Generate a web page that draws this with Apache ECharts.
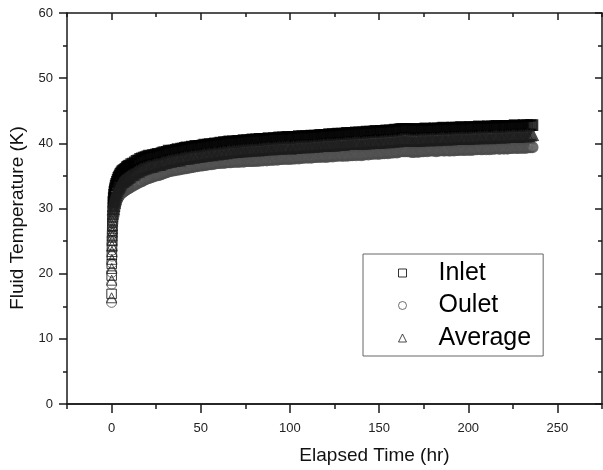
<!DOCTYPE html>
<html>
<head>
<meta charset="utf-8">
<script src="https://cdn.jsdelivr.net/npm/echarts@6/dist/echarts.min.js"></script>
<style>
  html, body { margin: 0; padding: 0; background: #fff; }
  #chart { width: 603px; height: 470px; }
</style>
</head>
<body>
<div id="chart"></div>
<script>
// elapsed time (hr)
const times = [
  0, 0.05, 0.1, 0.15, 0.2, 0.25, 0.3, 0.35, 0.4, 0.45,
  0.5, 0.6, 0.7, 0.8, 0.9, 1.0, 1.2, 1.4, 1.6, 1.8,
  2.0, 2.3, 2.6, 3.0, 3.4, 3.8, 4.2, 4.6, 5.0, 5.5,
  6, 6.5, 7, 7.5, 8, 8.5, 9, 9.5,
  10, 11, 12, 13, 14, 15, 16, 17, 18, 19,
  20, 21, 22, 23, 24, 25, 26, 27, 28, 29,
  30, 31, 32, 33, 34, 35, 36, 37, 38, 39,
  40, 41, 42, 43, 44, 45, 46, 47, 48, 49,
  50, 51, 52, 53, 54, 55, 56, 57, 58, 59,
  60, 61, 62, 63, 64, 65, 66, 67, 68, 69,
  70, 71, 72, 73, 74, 75, 76, 77, 78, 79,
  80, 81, 82, 83, 84, 85, 86, 87, 88, 89,
  90, 91, 92, 93, 94, 95, 96, 97, 98, 99,
  100, 101, 102, 103, 104, 105, 106, 107, 108, 109,
  110, 111, 112, 113, 114, 115, 116, 117, 118, 119,
  120, 121, 122, 123, 124, 125, 126, 127, 128, 129,
  130, 131, 132, 133, 134, 135, 136, 137, 138, 139,
  140, 141, 142, 143, 144, 145, 146, 147, 148, 149,
  150, 151, 152, 153, 154, 155, 156, 157, 158, 159,
  160, 161, 162, 163, 164, 165, 166, 167, 168, 169,
  170, 171, 172, 173, 174, 175, 176, 177, 178, 179,
  180, 181, 182, 183, 184, 185, 186, 187, 188, 189,
  190, 191, 192, 193, 194, 195, 196, 197, 198, 199,
  200, 201, 202, 203, 204, 205, 206, 207, 208, 209,
  210, 211, 212, 213, 214, 215, 216, 217, 218, 219,
  220, 221, 222, 223, 224, 225, 226, 227, 228, 229,
  230, 231, 232, 233, 234, 235, 236
]

// fluid temperature (K)
const inlet = [
  16.9, 19.7, 21.5, 22.9, 24.1, 25.1, 25.9, 26.6, 27.2, 27.8,
  28.3, 29.1, 29.7, 30.2, 30.6, 31.0, 31.6, 32.1, 32.5, 32.8,
  33.1, 33.5, 33.8, 34.1, 34.4, 34.7, 34.9, 35.1, 35.3, 35.5,
  35.7, 35.8, 35.9, 36.0, 36.1, 36.3, 36.4, 36.5,
  36.6, 36.8, 36.9, 37.1, 37.3, 37.4, 37.6, 37.7, 37.8, 37.9,
  38.0, 38.1, 38.0, 38.2, 38.2, 38.3, 38.4, 38.3, 38.5, 38.6,
  38.6, 38.7, 38.9, 38.8, 38.9, 38.9, 39.0, 39.1, 39.0, 39.2,
  39.2, 39.3, 39.4, 39.3, 39.4, 39.5, 39.4, 39.6, 39.5, 39.6,
  39.6, 39.7, 39.8, 39.7, 39.8, 39.9, 39.8, 39.9, 40.0, 39.9,
  40.0, 40.1, 40.0, 40.2, 40.1, 40.2, 40.3, 40.2, 40.3, 40.2,
  40.3, 40.4, 40.3, 40.4, 40.5, 40.4, 40.5, 40.4, 40.5, 40.6,
  40.5, 40.6, 40.5, 40.7, 40.6, 40.7, 40.6, 40.7, 40.8, 40.7,
  40.7, 40.8, 40.7, 40.8, 40.9, 40.8, 40.9, 40.8, 40.9, 41.0,
  40.8, 40.9, 41.0, 40.9, 41.0, 41.1, 41.0, 41.1, 41.0, 41.1,
  41.0, 41.1, 41.2, 41.1, 41.2, 41.1, 41.2, 41.3, 41.2, 41.3,
  41.2, 41.3, 41.4, 41.3, 41.4, 41.3, 41.4, 41.5, 41.4, 41.5,
  41.4, 41.5, 41.6, 41.5, 41.6, 41.5, 41.6, 41.7, 41.6, 41.7,
  41.6, 41.7, 41.6, 41.8, 41.7, 41.8, 41.7, 41.8, 41.9, 41.8,
  41.8, 41.9, 41.8, 41.9, 42.0, 41.9, 42.0, 41.9, 42.0, 42.1,
  42.0, 42.1, 42.2, 42.2, 42.2, 42.2, 42.2, 42.2, 42.1, 42.1,
  42.1, 42.2, 42.1, 42.2, 42.1, 42.2, 42.3, 42.2, 42.1, 42.2,
  42.2, 42.3, 42.2, 42.3, 42.2, 42.3, 42.4, 42.3, 42.2, 42.3,
  42.3, 42.4, 42.3, 42.4, 42.3, 42.4, 42.5, 42.4, 42.3, 42.4,
  42.4, 42.5, 42.4, 42.5, 42.4, 42.5, 42.6, 42.5, 42.4, 42.5,
  42.5, 42.6, 42.5, 42.6, 42.5, 42.6, 42.7, 42.6, 42.5, 42.6,
  42.6, 42.7, 42.6, 42.7, 42.6, 42.7, 42.8, 42.7, 42.6, 42.7,
  42.7, 42.8, 42.7, 42.8, 42.7, 42.8, 42.8
]

const outlet = [
  15.6, 18.4, 20.2, 21.6, 22.7, 23.6, 24.4, 25.0, 25.6, 26.1,
  26.5, 27.2, 27.7, 28.1, 28.5, 28.8, 29.3, 29.7, 30.0, 30.3,
  30.5, 30.8, 31.1, 31.4, 31.6, 31.8, 32.0, 32.2, 32.3, 32.4,
  32.5, 32.6, 32.7, 32.8, 32.9, 33.0, 33.1, 33.1,
  33.2, 33.4, 33.5, 33.7, 33.8, 34.0, 34.1, 34.2, 34.4, 34.5,
  34.6, 34.7, 34.8, 34.9, 35.0, 35.1, 35.1, 35.2, 35.3, 35.4,
  35.5, 35.6, 35.7, 35.8, 35.8, 35.9, 35.9, 36.0, 36.0, 36.1,
  36.1, 36.2, 36.2, 36.3, 36.3, 36.4, 36.4, 36.5, 36.5, 36.6,
  36.6, 36.6, 36.7, 36.7, 36.8, 36.8, 36.8, 36.9, 36.9, 37.0,
  37.0, 37.0, 37.1, 37.0, 37.1, 37.1, 37.1, 37.1, 37.2, 37.2,
  37.2, 37.2, 37.2, 37.3, 37.2, 37.3, 37.3, 37.3, 37.3, 37.3,
  37.3, 37.4, 37.3, 37.4, 37.4, 37.4, 37.5, 37.4, 37.5, 37.5,
  37.5, 37.5, 37.6, 37.5, 37.6, 37.6, 37.6, 37.7, 37.6, 37.7,
  37.6, 37.7, 37.7, 37.7, 37.8, 37.7, 37.8, 37.8, 37.8, 37.9,
  37.8, 37.9, 37.8, 37.9, 37.9, 37.9, 38.0, 37.9, 38.0, 38.0,
  37.9, 38.0, 38.0, 38.1, 38.0, 38.1, 38.1, 38.1, 38.2, 38.1,
  38.1, 38.2, 38.1, 38.2, 38.2, 38.2, 38.3, 38.2, 38.3, 38.3,
  38.2, 38.3, 38.3, 38.4, 38.3, 38.4, 38.4, 38.4, 38.5, 38.4,
  38.4, 38.5, 38.5, 38.5, 38.6, 38.5, 38.6, 38.6, 38.6, 38.7,
  38.6, 38.7, 38.8, 38.8, 38.8, 38.8, 38.8, 38.8, 38.7, 38.7,
  38.7, 38.8, 38.7, 38.8, 38.8, 38.8, 38.9, 38.8, 38.9, 38.9,
  38.9, 38.9, 38.8, 38.9, 38.9, 39.0, 38.9, 38.9, 39.0, 38.9,
  38.9, 39.0, 38.9, 39.0, 39.0, 39.0, 39.1, 39.0, 39.0, 39.1,
  39.0, 39.1, 39.0, 39.1, 39.1, 39.1, 39.2, 39.1, 39.1, 39.2,
  39.1, 39.2, 39.1, 39.2, 39.2, 39.2, 39.3, 39.2, 39.2, 39.3,
  39.2, 39.3, 39.2, 39.3, 39.3, 39.3, 39.4, 39.3, 39.3, 39.4,
  39.3, 39.4, 39.3, 39.4, 39.4, 39.4, 39.4
]

const average = [
  16.3, 19.0, 20.8, 22.2, 23.4, 24.3, 25.1, 25.8, 26.4, 26.9,
  27.4, 28.1, 28.7, 29.1, 29.5, 29.9, 30.4, 30.9, 31.2, 31.5,
  31.8, 32.1, 32.4, 32.7, 33.0, 33.2, 33.4, 33.6, 33.8, 34.0,
  34.1, 34.2, 34.3, 34.4, 34.5, 34.6, 34.7, 34.8,
  34.9, 35.1, 35.2, 35.4, 35.6, 35.7, 35.9, 36.0, 36.1, 36.2,
  36.3, 36.4, 36.4, 36.5, 36.6, 36.7, 36.7, 36.7, 36.9, 37.0,
  37.0, 37.1, 37.2, 37.2, 37.3, 37.3, 37.4, 37.5, 37.4, 37.6,
  37.6, 37.7, 37.7, 37.7, 37.8, 37.9, 37.8, 38.0, 37.9, 38.0,
  38.0, 38.1, 38.2, 38.1, 38.2, 38.3, 38.2, 38.3, 38.4, 38.3,
  38.4, 38.5, 38.4, 38.6, 38.5, 38.6, 38.7, 38.6, 38.7, 38.7,
  38.7, 38.8, 38.8, 38.8, 38.9, 38.8, 38.9, 38.9, 38.9, 39.0,
  38.9, 39.0, 38.9, 39.1, 39.0, 39.1, 39.1, 39.1, 39.2, 39.1,
  39.1, 39.2, 39.2, 39.2, 39.3, 39.2, 39.3, 39.3, 39.3, 39.4,
  39.2, 39.3, 39.4, 39.3, 39.4, 39.4, 39.4, 39.5, 39.4, 39.5,
  39.4, 39.5, 39.5, 39.5, 39.6, 39.5, 39.6, 39.6, 39.6, 39.7,
  39.6, 39.7, 39.7, 39.7, 39.7, 39.7, 39.8, 39.8, 39.8, 39.8,
  39.8, 39.9, 39.9, 39.9, 39.9, 39.9, 40.0, 40.0, 40.0, 40.0,
  39.9, 40.0, 40.0, 40.1, 40.0, 40.1, 40.1, 40.1, 40.2, 40.1,
  40.1, 40.2, 40.2, 40.2, 40.3, 40.2, 40.3, 40.3, 40.3, 40.4,
  40.3, 40.4, 40.5, 40.5, 40.5, 40.5, 40.5, 40.5, 40.4, 40.4,
  40.4, 40.5, 40.4, 40.5, 40.5, 40.5, 40.6, 40.5, 40.5, 40.6,
  40.6, 40.6, 40.5, 40.6, 40.6, 40.7, 40.7, 40.6, 40.6, 40.7,
  40.6, 40.7, 40.7, 40.7, 40.7, 40.7, 40.8, 40.8, 40.7, 40.8,
  40.7, 40.8, 40.8, 40.8, 40.8, 40.8, 40.9, 40.9, 40.8, 40.9,
  40.9, 40.9, 40.8, 40.9, 40.9, 41.0, 41.0, 40.9, 40.9, 41.0,
  40.9, 41.0, 41.0, 41.0, 41.0, 41.1, 41.1, 41.0, 41.0, 41.1,
  41.1, 41.1, 41.1, 41.2, 41.1, 41.2, 41.3
]

const xMajorTicks = [0, 50, 100, 150, 200, 250]

const chart = echarts.init(document.getElementById('chart'))
const font = 'Liberation Sans, Arial, sans-serif'
const axisColor = '#1a1a1a'

// first readings sit apart on the plot, so keep their outlines thin
const pairs = (vals) =>
  times.map((t, i) => (t < 1 ? { value: [t, vals[i]], itemStyle: { borderWidth: 1 } } : [t, vals[i]]))

const markerStyle = (c) => ({
  color: 'transparent',
  borderColor: c,
  borderWidth: 2.2
})

const lineStyle = { color: axisColor, width: 1.5 }

const option = {
  animation: false,
  backgroundColor: '#fff',
  grid: { left: 67, right: 1, top: 13, bottom: 64 },
  legend: {
    orient: 'vertical',
    left: 363,
    top: 254,
    data: ['Inlet', 'Oulet', 'Average'],
    padding: [6, 12, 5, 35],
    itemGap: 6.5,
    itemWidth: 8,
    itemHeight: 8,
    itemStyle: { borderWidth: 1 },
    borderColor: '#666',
    borderWidth: 1,
    textStyle: { fontSize: 25, fontFamily: font, color: '#000', lineHeight: 26, padding: [0, 0, 0, 27] }
  },
  xAxis: [
    {
      // minor ticks every 25
      type: 'value', position: 'bottom', min: -25, max: 275, interval: 25,
      axisLine: { onZero: false, lineStyle },
      axisTick: { length: 5, lineStyle },
      axisLabel: { show: false },
      splitLine: { show: false }
    },
    {
      type: 'value', position: 'bottom', min: -25, max: 275,
      name: 'Elapsed Time (hr)', nameLocation: 'middle', nameGap: 42,
      nameTextStyle: { fontSize: 19, fontFamily: font, color: '#111', padding: [0, 0, 0, 80] },
      axisLine: { onZero: false, lineStyle },
      axisTick: { length: 9, customValues: xMajorTicks, lineStyle },
      axisLabel: { customValues: xMajorTicks, margin: 18, fontSize: 13, fontFamily: font, color: '#222' },
      splitLine: { show: false }
    },
    {
      type: 'value', position: 'top', min: -25, max: 275, interval: 25,
      axisLine: { onZero: false, lineStyle },
      axisTick: { inside: true, length: 4, lineStyle },
      axisLabel: { show: false },
      splitLine: { show: false }
    },
    {
      type: 'value', position: 'top', min: -25, max: 275,
      axisLine: { show: false, onZero: false },
      axisTick: { inside: true, length: 7, customValues: xMajorTicks, lineStyle },
      axisLabel: { show: false },
      splitLine: { show: false }
    }
  ],
  yAxis: [
    {
      type: 'value', position: 'left', min: 0, max: 60, interval: 10,
      name: 'Fluid Temperature (K)', nameLocation: 'middle', nameGap: 40,
      nameTextStyle: { fontSize: 19, fontFamily: font, color: '#111', padding: [0, 19, 0, 0] },
      axisLine: { onZero: false, lineStyle },
      axisTick: { length: 8, lineStyle },
      minorTick: { show: true, splitNumber: 2, length: 4, lineStyle },
      axisLabel: { margin: 14, fontSize: 13, fontFamily: font, color: '#222' },
      splitLine: { show: false }
    },
    {
      type: 'value', position: 'right', min: 0, max: 60, interval: 10,
      axisLine: { onZero: false, lineStyle },
      axisTick: { inside: true, length: 7, lineStyle },
      minorTick: { show: true, splitNumber: 2, length: 4, lineStyle },
      axisLabel: { show: false },
      splitLine: { show: false }
    }
  ],
  series: [
    {
      name: 'Inlet', type: 'scatter', symbol: 'rect', symbolSize: 9.5,
      itemStyle: markerStyle('#000'),
      data: pairs(inlet)
    },
    {
      name: 'Oulet', type: 'scatter', symbol: 'circle', symbolSize: 10,
      itemStyle: markerStyle('#4c4c4c'),
      data: pairs(outlet)
    },
    {
      name: 'Average', type: 'scatter', symbol: 'triangle', symbolSize: 10,
      itemStyle: markerStyle('#1d1d1d'),
      data: pairs(average)
    }
  ]
}

chart.setOption(option)
</script>
</body>
</html>
